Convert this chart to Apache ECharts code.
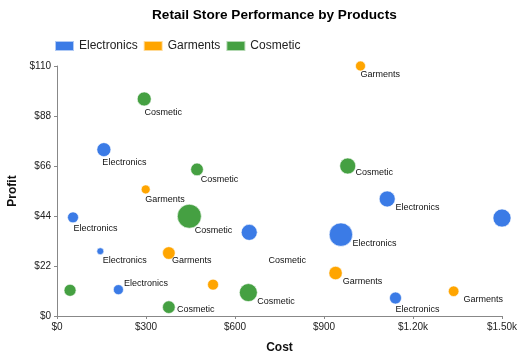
<!DOCTYPE html>
<html>
<head>
<meta charset="utf-8">
<script src="https://cdn.jsdelivr.net/npm/echarts@6/dist/echarts.min.js"></script>
<style>html,body{margin:0;padding:0;background:#fff}#c{width:532px;height:355px}</style>
</head>
<body>
<div id="c"></div>
<script>
const categories = ['Electronics', 'Garments', 'Cosmetic'];

const electronicsCost   = [54, 158, 146, 207, 648, 957, 1113, 1500, 1141];
const electronicsProfit = [43.4, 73.2, 28.5, 11.6, 36.8, 35.8, 51.5, 43.1, 7.9];
const electronicsSize   = [30, 49, 12, 25, 64, 137, 64, 81, 36];

const garmentsCost   = [1023, 299, 377, 526, 939, 1337];
const garmentsProfit = [110, 55.7, 27.7, 13.8, 18.9, 10.9];
const garmentsSize   = [25, 20, 40, 30, 45, 28];

const cosmeticCost   = [294, 472, 446, 44, 377, 645, 980];
const cosmeticProfit = [95.5, 64.5, 43.9, 11.3, 3.9, 10.3, 66];
const cosmeticSize   = [49, 40, 144, 36, 40, 81, 64];

const xTickLabels = ['$0', '$300', '$600', '$900', '$1.20k', '$1.50k'];
const yTickLabels = ['$0', '$22', '$44', '$66', '$88', '$110'];

const colors = ['#3b7be6', '#ffa500', '#45a042'];

// Label placement (style only): [dx, dy] of the label's left/middle from the bubble centre; null = label hidden
const labelOffsets = {
  'Electronics': [[1, 12], [-1, 13.4], [3, 10], [6, -5.5], null, [12, 9.4], [8.7, 9], null, [0.6, 12]],
  'Garments':    [[0.6, 9.4], [0, 10.7], [3.7, 8], null, [7.6, 9], [10.3, 8.7]],
  'Cosmetic':    [[0.7, 14], [4.3, 10.7], [6, 15], [199, -29], [8.7, 3], [9.4, 9.7], [8.3, 7.3]]
};

const bubbleDiameter = (s) => 2 * Math.sqrt(s);

function build(name, xs, ys, ss) {
  return xs.map((x, i) => {
    const off = labelOffsets[name][i];
    const r = bubbleDiameter(ss[i]) / 2;
    return {
      value: [x, ys[i], ss[i]],
      label: off ? { show: true, position: [r + off[0], r + off[1]] } : { show: false }
    };
  });
}

const seriesData = [
  build('Electronics', electronicsCost, electronicsProfit, electronicsSize),
  build('Garments', garmentsCost, garmentsProfit, garmentsSize),
  build('Cosmetic', cosmeticCost, cosmeticProfit, cosmeticSize)
];

const chart = echarts.init(document.getElementById('c'));
const font = 'Liberation Sans, Arial, sans-serif';

chart.setOption({
  animation: false,
  textStyle: { fontFamily: font },
  title: {
    text: 'Retail Store Performance by Products',
    left: 147, top: 3,
    textStyle: { fontFamily: font, fontSize: 13.6, fontWeight: 'bold', color: '#000' }
  },
  legend: {
    left: 49, top: 35,
    itemWidth: 19, itemHeight: 10, itemGap: 5,
    icon: 'rect',
    data: categories,
    textStyle: { fontFamily: font, fontSize: 12, color: '#222' }
  },
  grid: { left: 57, right: 30, top: 66, bottom: 39, containLabel: false, outerBoundsMode: 'none' },
  xAxis: {
    type: 'value', min: 0, max: 1500, interval: 300,
    name: 'Cost', nameLocation: 'middle', nameGap: 26,
    nameTextStyle: { fontFamily: font, fontSize: 12, fontWeight: 'bold', color: '#111' },
    axisLine: { show: true, lineStyle: { color: '#888' } },
    axisTick: { show: true, length: 3, lineStyle: { color: '#888' } },
    splitLine: { show: false },
    axisLabel: { fontSize: 10, color: '#222', margin: 6,
      formatter: (v) => xTickLabels[Math.round(v / 300)] }
  },
  yAxis: {
    type: 'value', min: 0, max: 110, interval: 22,
    name: 'Profit', nameLocation: 'middle', nameGap: 38,
    nameTextStyle: { fontFamily: font, fontSize: 12, fontWeight: 'bold', color: '#111' },
    axisLine: { show: true, lineStyle: { color: '#888' } },
    axisTick: { show: true, length: 3, lineStyle: { color: '#888' } },
    splitLine: { show: false },
    axisLabel: { fontSize: 10, color: '#222', margin: 6,
      formatter: (v) => yTickLabels[Math.round(v / 22)] }
  },
  series: categories.map((name, k) => ({
    name: name,
    type: 'scatter',
    data: seriesData[k],
    symbolSize: (val) => bubbleDiameter(val[2]),
    itemStyle: { color: colors[k], opacity: 1, borderColor: 'rgba(255,255,255,0.6)', borderWidth: 1 },
    label: {
      show: true,
      formatter: () => name,
      align: 'left', verticalAlign: 'middle',
      fontFamily: font, fontSize: 9, color: '#111'
    },
    labelLayout: { hideOverlap: false },
    emphasis: { disabled: true },
    clip: false
  }))
});
</script>
</body>
</html>
